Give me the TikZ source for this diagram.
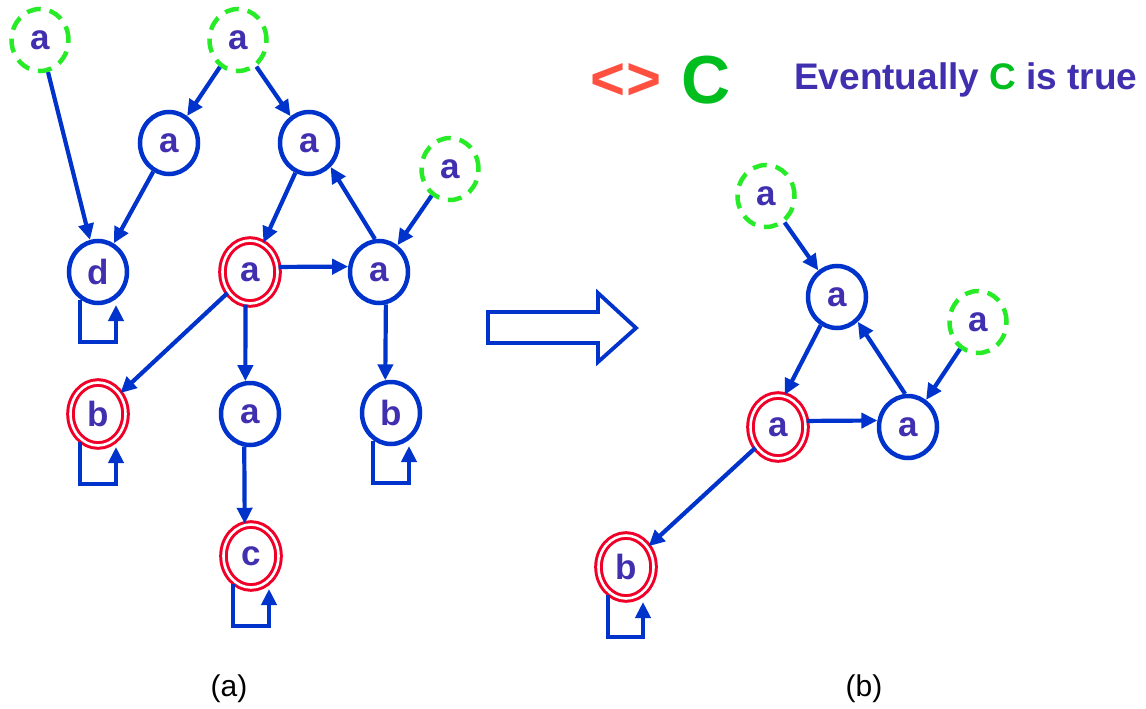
\documentclass[tikz,border=0pt]{standalone}
\usepackage{fontspec}
\setmainfont{Liberation Sans}
\usetikzlibrary{arrows.meta,shapes.geometric}
\definecolor{lineblue}{RGB}{0,51,204}
\definecolor{txtpurple}{RGB}{64,48,176}
\definecolor{dashgreen}{RGB}{40,235,40}
\definecolor{ringred}{RGB}{240,0,40}
\definecolor{tomatored}{RGB}{255,80,64}
\definecolor{cgreen}{RGB}{0,190,30}
\tikzset{
  lbl/.style={font=\fontsize{35}{37}\selectfont\bfseries, text=txtpurple},
  plain/.style={lbl, ellipse, draw=lineblue, line width=4.5pt, inner sep=0pt, minimum width=58pt, minimum height=62pt},
  initial/.style={lbl, ellipse, draw=dashgreen, line width=4.5pt, dash pattern=on 14pt off 9pt, inner sep=0pt, minimum width=57pt, minimum height=62pt},
  accept/.style={lbl, ellipse, draw=ringred, double=white, double distance=2.6pt, line width=3pt, inner sep=0pt, minimum width=55pt, minimum height=63pt},
  conn/.style={draw=lineblue, line width=4.2pt, -{Triangle[length=16pt,width=15pt]}},
  bigarrow/.style={draw=lineblue, line width=3.8pt, fill=white, line join=miter},
  caption/.style={font=\fontsize{30}{32}\selectfont, text=black}
}
\begin{document}
\begin{tikzpicture}[x=1pt,y=-1pt]
\useasboundingbox (0,0) rectangle (1146,709);
% ---------- (a) ----------
\node[initial] (g1) at (40,40) {a};
\node[initial] (g2) at (238,40) {a};
\node[plain] (n1) at (169,143) {a};
\node[plain] (n2) at (309,143) {a};
\node[initial] (g3) at (450,169) {a};
\node[plain] (d) at (98,272) {d};
\node[accept] (ra) at (250,272) {a};
\node[plain] (ar) at (379,272) {a};
\node[accept] (bl) at (98,414) {b};
\node[plain] (am) at (250,414) {a};
\node[plain] (br) at (391,413) {b};
\node[accept] (c) at (251,556) {c};

\draw[conn] (g1) -- (d);
\draw[conn] (g2) -- (n1);
\draw[conn] (g2) -- (n2);
\draw[conn] (n1) -- (d);
\draw[conn] (n2) -- (ra);
\draw[conn] (ra.10) -- (ar.170);
\draw[conn] (ar.97) -- (n2.-48);
\draw[conn] (g3) -- (ar);
\draw[conn] (ra) -- (bl);
\draw[conn] (ra.-98) -- (am.98);
\draw[conn] (ar.-78) -- (br.100);
\draw[conn] (am.-100) -- (c.101);

\foreach \n in {d,bl,br,c}{
  \draw[conn] ([xshift=-18pt,yshift=-28pt]\n.center) |- ([xshift=18pt,yshift=-70pt]\n.center) -- ([xshift=18pt,yshift=-33pt]\n.center);
}

% ---------- big arrow ----------
\draw[bigarrow] (488,312) -- (598,312) -- (598,293) -- (636,328) -- (598,362) -- (598,343) -- (488,343) -- cycle;

% ---------- (b) ----------
\node[initial] (g4) at (766,196) {a};
\node[plain] (n3) at (837,297) {a};
\node[initial] (g5) at (978,322) {a};
\node[accept] (ra2) at (778,427) {a};
\node[plain] (ar2) at (908,427) {a};
\node[accept] (b2) at (626,567) {b};

\draw[conn] (g4) -- (n3);
\draw[conn] (n3.-120) -- (ra2.78);
\draw[conn] (ra2.12) -- (ar2.168);
\draw[conn] (ar2.95) -- (n3.-50);
\draw[conn] (g5) -- (ar2);
\draw[conn] (ra2) -- (b2);
\draw[conn] ([xshift=-18pt,yshift=-28pt]b2.center) |- ([xshift=17pt,yshift=-70pt]b2.center) -- ([xshift=17pt,yshift=-35pt]b2.center);

% ---------- headline ----------
\node[font=\fontsize{60}{62}\selectfont\bfseries, text=tomatored, inner sep=0pt] (op) at (626,81) {<>};
\node[font=\fontsize{68}{70}\selectfont\bfseries, text=cgreen, inner sep=0pt] (cc) at (706,80) {C};
\node[font=\fontsize{37}{40}\selectfont\bfseries, text=txtpurple, inner sep=0pt, anchor=west] (ev) at (794,80) {Eventually \textcolor{cgreen}{C} is true};

% ---------- captions ----------
\node[caption] (capa) at (229,689) {(a)};
\node[caption] (capb) at (864,689) {(b)};
\end{tikzpicture}
\end{document}
